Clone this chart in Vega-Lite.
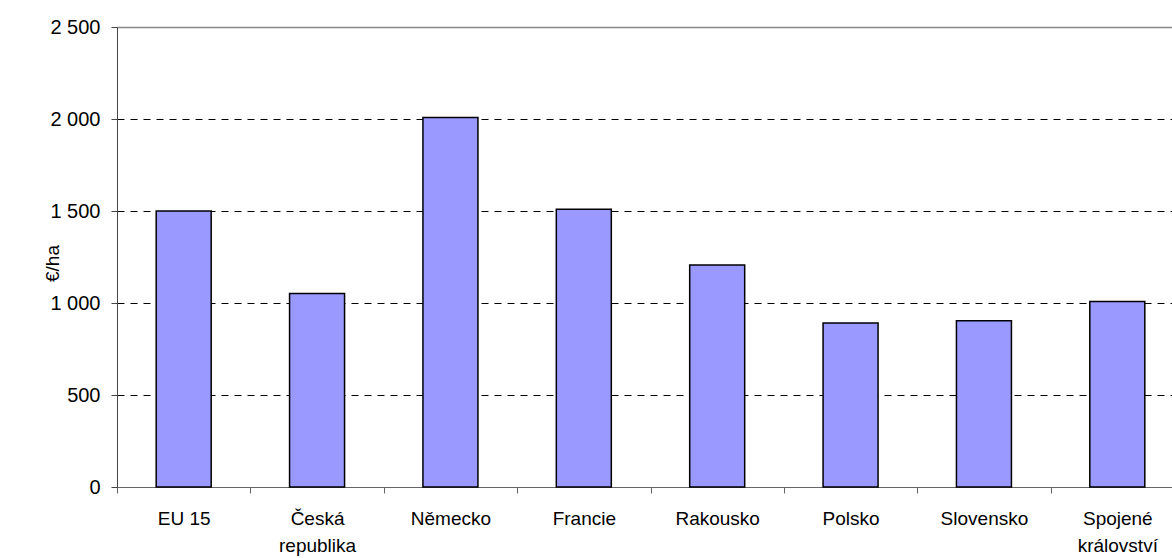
{
  "$schema": "https://vega.github.io/schema/vega-lite/v6.json",
  "autosize": {"type": "none"},
  "width": 1055,
  "height": 460,
  "padding": {"left": 117, "top": 27, "right": 0, "bottom": 71},
  "background": "white",
  "config": {
    "view": {"stroke": null},
    "font": "Liberation Sans",
    "axis": {"labelFont": "Liberation Sans", "titleFont": "Liberation Sans"}
  },
  "data": {
    "values": [
      {"country": "EU 15", "value": 1500},
      {"country": "Česká republika", "value": 1052},
      {"country": "Německo", "value": 2008},
      {"country": "Francie", "value": 1509},
      {"country": "Rakousko", "value": 1207},
      {"country": "Polsko", "value": 891},
      {"country": "Slovensko", "value": 903},
      {"country": "Spojené království", "value": 1008}
    ]
  },
  "mark": {"type": "bar", "width": 55, "fill": "#9999FF", "stroke": "#000000", "strokeWidth": 1.5},
  "encoding": {
    "x": {
      "field": "country",
      "type": "nominal",
      "sort": null,
      "scale": {"range": [0, 1067], "paddingInner": 0, "paddingOuter": 0},
      "axis": {
        "title": null,
        "labelAngle": 0,
        "labelFontSize": 19,
        "labelColor": "#000000",
        "labelPadding": 16,
        "labelLineHeight": 27,
        "labelBaseline": "top",
        "tickBand": "extent",
        "tickSize": 6,
        "tickColor": "#666666",
        "domainColor": "#666666",
        "domainWidth": 1,
        "labelExpr": "datum.value == 'Česká republika' ? ['Česká', 'republika'] : datum.value == 'Spojené království' ? ['Spojené', 'království'] : datum.value"
      }
    },
    "y": {
      "field": "value",
      "type": "quantitative",
      "scale": {"domain": [0, 2500], "nice": false},
      "axis": {
        "title": "€/ha",
        "titleFontSize": 19,
        "titleFontWeight": "normal",
        "titleColor": "#000000",
        "titleX": -65,
        "titleY": 236,
        "titleAngle": -90,
        "titleAlign": "center",
        "titleBaseline": "middle",
        "values": [0, 500, 1000, 1500, 2000, 2500],
        "labelFontSize": 20,
        "labelColor": "#000000",
        "labelPadding": 11,
        "tickSize": 6,
        "tickColor": "#444444",
        "domainColor": "#444444",
        "grid": true,
        "gridColor": {"condition": {"test": "datum.value == 2500", "value": "#888888"}, "value": "#000000"},
        "gridDash": {"condition": {"test": "datum.value == 2500", "value": []}, "value": [7, 6]},
        "gridWidth": {"condition": {"test": "datum.value == 2500", "value": 1.5}, "value": 1},
        "labelExpr": "replace(format(datum.value, ','), ',', ' ')"
      }
    }
  }
}
